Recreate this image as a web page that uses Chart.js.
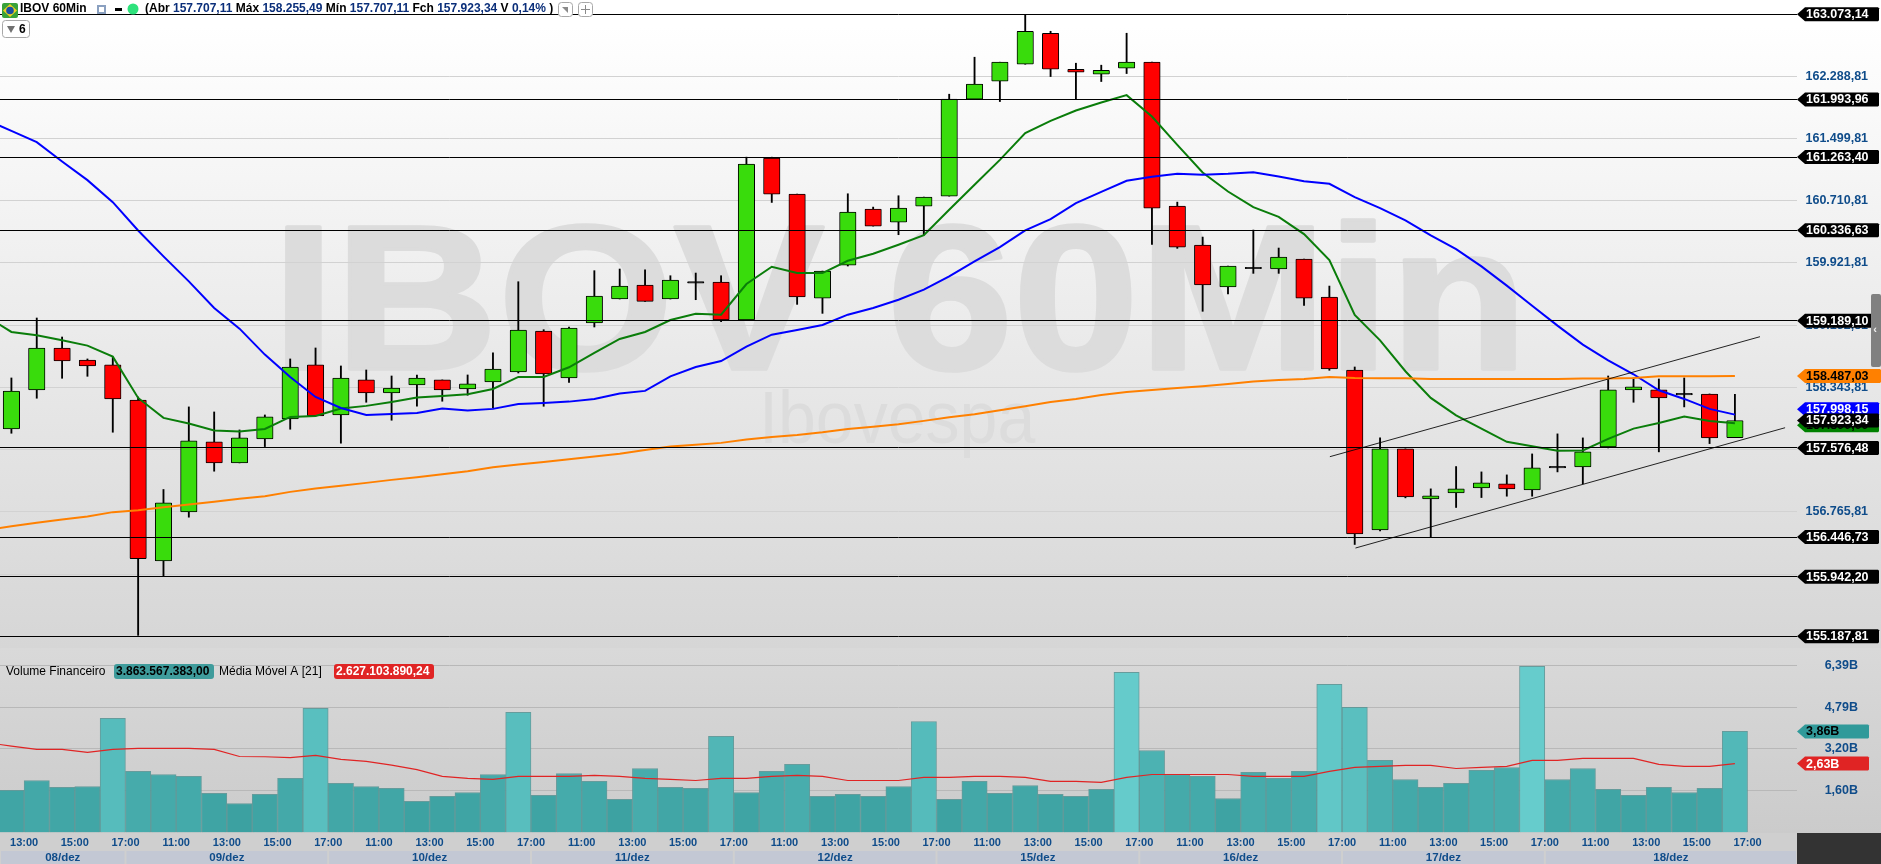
<!DOCTYPE html>
<html>
<head>
<meta charset="utf-8">
<title>IBOV 60Min</title>
<script src="https://cdn.jsdelivr.net/npm/chart.js@4/dist/chart.umd.min.js"></script>
<style>
html, body { margin: 0; padding: 0; background: #fff; overflow: hidden; }
canvas { display: block; }
</style>
</head>
<body>
<canvas id="ibovChart" width="1881" height="864"></canvas>
<script>
// ================= DATA =================
const candleOpen = [157817,158311,158843,158691,158628,158184,156145,156766,157652,157386,157690,157944,158628,157994,158438,158273,158374,158438,158324,158412,158539,159058,158463,159160,159464,159641,159464,159666,159679,159198,161250,160794,159476,159894,160604,160439,160642,160768,161997,162225,162440,162833,162377,162314,162390,162466,160642,160148,159616,159856,159844,159970,159489,158564,156538,157564,156931,157007,157070,157121,157045,157323,157336,157589,158311,158311,158248,158260,157707.11];
const candleHigh = [158463,159223,158982,158704,158729,158222,157049,158096,158032,157804,157994,158704,158843,158615,158564,158488,158501,158438,158501,158780,159683,159075,159109,159823,159844,159835,159759,159793,159759,161262,161262,160794,159818,160798,160629,160773,160756,162060,162529,162466,163073,162858,162453,162428,162833,162466,160692,160249,159882,160338,160110,159970,159628,158602,157703,157564,157057,157340,157272,157234,157500,157754,157703,158488,158463,158450,158463,158260,158255.49];
const candleLow = [157762,158206,158459,158484,157775,155200,155955,156698,157281,157386,157593,157813,157982,157636,158155,157927,158104,158168,158244,158083,158526,158104,158408,159109,159464,159434,159464,159455,159177,159198,160688,159396,159282,159882,160388,160279,160274,160768,161997,161967,162440,162284,161997,162221,162322,160156,160106,159308,159527,159789,159789,159384,158560,156352,156525,156943,156449,156821,156947,156964,156964,157272,157121,157576,158155,157526,158096,157631,157707.11];
const candleClose = [158298,158843,158678,158615,158197,156171,156880,157665,157386,157703,157969,158602,157982,158463,158273,158336,158463,158311,158387,158577,159071,158514,159096,159502,159628,159434,159704,159666,159198,161174,160794,159489,159818,160566,160388,160616,160756,161997,162187,162466,162858,162377,162339,162364,162466,160616,160122,159641,159882,159848,159996,159476,158577,156487,157564,156956,156969,157057,157133,157057,157323,157323,157526,158311,158349,158210,158248,157703,157923.34];

// moving averages: first value belongs to the bar just before the visible window
const emaFast = [159244,159046,159004,158940,158873,158733,158210,157957,157885,157796,157783,157817,157969,157982,158075,158109,158159,158214,158235,158256,158324,158476,158476,158598,158780,158957,159046,159198,159278,159265,159654,159873,159793,159793,159949,160038,160152,160274,160595,160912,161228,161566,161722,161853,161955,162048,161777,161418,161068,160827,160629,160506,160287,159958,159261,158940,158548,158210,157990,157821,157653,157598,157539,157543,157691,157821,157893,157973,157918,157890];
const emaSlow = [161735,161596,161452,161207,160971,160692,160333,160004,159687,159350,159088,158759,158476,158222,158083,157995,158007,158020,158075,158049,158071,158134,158146,158163,158197,158265,158299,158484,158602,158678,158860,159012,159071,159134,159265,159350,159455,159582,159751,159941,160122,160333,160477,160680,160823,160962,161013,161051,161038,161051,161072,161017,160958,160924,160756,160616,160460,160270,160097,159877,159633,159379,159126,158885,158687,158510,158307,158197,158071,157998.15];
const smaLong = [156534,156584,156627,156669,156707,156762,156787,156825,156859,156893,156931,156964,157019,157061,157095,157133,157171,157205,157243,157281,157332,157365,157399,157433,157467,157501,157551,157593,157615,157640,157682,157716,157741,157775,157817,157843,157876,157919,157965,158003,158054,158104,158159,158197,158248,158286,158311,158336,158358,158387,158417,158438,158450,158476,158463,158459,158459,158450,158450,158450,158450,158450,158450,158455,158455,158463,158484,158485,158486,158487.03];

// volume in billions
const volumeValues = [1.60,1.98,1.72,1.75,4.36,2.33,2.21,2.14,1.49,1.10,1.45,2.06,4.74,1.87,1.75,1.68,1.18,1.37,1.52,2.21,4.59,1.41,2.25,1.95,1.26,2.44,1.72,1.68,3.67,1.52,2.33,2.60,1.37,1.45,1.37,1.75,4.24,1.26,1.95,1.49,1.79,1.45,1.37,1.64,6.12,3.13,2.21,2.14,1.29,2.29,2.06,2.33,5.66,4.78,2.75,2.02,1.72,1.87,2.37,2.48,6.35,2.02,2.44,1.64,1.41,1.72,1.52,1.68,3.86];
const volumeAverage = [3.43,3.30,3.17,3.17,3.06,3.17,3.21,3.21,3.21,3.17,2.90,2.89,2.86,2.94,2.79,2.71,2.57,2.40,2.14,2.06,2.02,2.14,2.14,2.14,2.18,2.14,2.06,2.02,1.98,2.06,2.06,2.14,2.18,2.14,1.98,1.98,1.98,2.10,2.10,2.14,2.14,2.10,1.95,1.95,1.91,2.10,2.21,2.21,2.21,2.21,2.14,2.14,2.14,2.33,2.48,2.52,2.56,2.56,2.44,2.48,2.52,2.75,2.75,2.83,2.83,2.83,2.60,2.52,2.52,2.627];

const priceTicks = [162288.81,161499.81,160710.81,159921.81,159132.81,158343.81,157554.81,156765.81,155976.81,155187.81];
const priceLevels = [163073.14,161993.96,161263.40,160336.63,159189.10,157576.48,156446.73,155942.20,155187.81];
const volumeTicks = [1.60,3.20,4.79,6.39];
const timeTicks = ["13:00","15:00","17:00","11:00","13:00","15:00","17:00","11:00","13:00","15:00","17:00","11:00","13:00","15:00","17:00","11:00","13:00","15:00","17:00","11:00","13:00","15:00","17:00","11:00","13:00","15:00","17:00","11:00","13:00","15:00","17:00","11:00","13:00","15:00","17:00"];
const dayLabels = ["08/dez","09/dez","10/dez","11/dez","12/dez","15/dez","16/dez","17/dez","18/dez"];

// channel drawn on the chart: [bar, price] at both ends
const channelUpper = [[52.02,157465],[68.99,158986]];
const channelLower = [[53.03,156307],[69.98,157832]];

// ================= HELPERS =================
const FONT = '"Liberation Sans", Arial, sans-serif';
const AXIS_BLUE = "#0f4c8a";
const X_MIN = -0.45, X_MAX = 70.45;

const brl = v => v.toLocaleString("pt-BR", { minimumFractionDigits: 2, maximumFractionDigits: 2 });
const billions = v => v.toFixed(2).replace(".", ",") + "B";
const lastOf = a => a[a.length - 1];
const last = candleClose.length - 1;

function candleColor(i) {
    if (Math.abs(candleOpen[i] - candleClose[i]) < 12) return "#000000";
    return candleClose[i] > candleOpen[i] ? "#39dc0c" : "#ff0000";
}

// taller volume bars are drawn lighter
function volumeColor(v) {
    const t = Math.min(1, Math.max(0, (v - 1.1) / 5.2));
    return `rgb(${Math.round(60 + t * 42)},${Math.round(161 + t * 43)},${Math.round(161 + t * 43)})`;
}

function rr(ctx, x, y, w, h, r) {
    ctx.beginPath();
    ctx.roundRect(x, y, w, h, r);
}

function axisTag(ctx, y, text, bg, fg, right) {
    const x0 = 1797, h = 7;
    ctx.fillStyle = bg;
    ctx.beginPath();
    ctx.moveTo(x0, y);
    ctx.lineTo(x0 + 8, y - h);
    ctx.lineTo(right - 1, y - h);
    ctx.lineTo(right, y - h + 1);
    ctx.lineTo(right, y + h - 1);
    ctx.lineTo(right - 1, y + h);
    ctx.lineTo(x0 + 8, y + h);
    ctx.closePath();
    ctx.fill();
    ctx.fillStyle = fg;
    ctx.font = `bold 12.5px ${FONT}`;
    ctx.textAlign = "left";
    ctx.textBaseline = "middle";
    ctx.fillText(text, 1806, y + 0.5);
}

function runs(ctx, x, y, parts) {
    ctx.textAlign = "left";
    ctx.textBaseline = "middle";
    parts.forEach(([text, color]) => {
        ctx.fillStyle = color;
        ctx.fillText(text, x, y);
        x += ctx.measureText(text).width;
    });
    return x;
}

// ================= BACKGROUND, WATERMARK, TAGS, HEADER =================
const paneDecor = {
    id: "paneDecor",
    beforeDraw(chart) {
        const ctx = chart.ctx;
        const top = ctx.createLinearGradient(0, 0, 0, 648);
        top.addColorStop(0, "#ffffff");
        top.addColorStop(0.04, "#ffffff");
        top.addColorStop(1, "#d6d6d6");
        ctx.fillStyle = top;
        ctx.fillRect(0, 0, 1881, 648);
        const low = ctx.createLinearGradient(0, 648, 0, 833);
        low.addColorStop(0, "#d9d9d9");
        low.addColorStop(1, "#cbcbcb");
        ctx.fillStyle = low;
        ctx.fillRect(0, 648, 1881, 185);
        ctx.fillStyle = "#cfcfcf";
        ctx.fillRect(0, 833, 1881, 31);

        ctx.save();
        ctx.fillStyle = "#dcdcdc";
        ctx.strokeStyle = "#dcdcdc";
        ctx.lineWidth = 4;
        ctx.lineJoin = "round";
        ctx.textAlign = "left";
        ctx.textBaseline = "alphabetic";
        ctx.save();
        ctx.translate(272, 369);
        ctx.scale(1, 0.91);
        ctx.font = `bold 226px ${FONT}`;
        ctx.fillText("IBOV 60Min", 0, 0);
        ctx.strokeText("IBOV 60Min", 0, 0);
        ctx.restore();
        ctx.translate(759, 443);
        ctx.scale(0.92, 1);
        ctx.font = `74px ${FONT}`;
        ctx.fillText("Ibovespa", 0, 0);
        ctx.restore();
    },
    afterDraw(chart) {
        const ctx = chart.ctx;
        const { x, y, yVol } = chart.scales;
        ctx.save();

        // date strip
        ctx.font = `bold 11.5px ${FONT}`;
        ctx.textAlign = "center";
        ctx.textBaseline = "middle";
        dayLabels.forEach((label, k) => {
            const from = k === 0 ? X_MIN : 4.5 + 8 * (k - 1);
            const to = k === dayLabels.length - 1 ? X_MAX : 4.5 + 8 * k;
            const a = x.getPixelForValue(from), b = x.getPixelForValue(to);
            ctx.fillStyle = "#c3c8d4";
            ctx.fillRect(a + 1, 851, b - a - 2, 13);
            ctx.fillStyle = AXIS_BLUE;
            ctx.fillText(label, (a + b) / 2, 858);
        });
        ctx.fillStyle = "#333333";
        ctx.fillRect(1797, 833, 84, 31);

        // price tags, the last values are nudged apart as the platform does
        priceLevels.forEach(v => axisTag(ctx, y.getPixelForValue(v), brl(v), "#000000", "#ffffff", 1879));
        axisTag(ctx, y.getPixelForValue(lastOf(smaLong)), brl(lastOf(smaLong)), "#ff8000", "#000000", 1881);
        axisTag(ctx, y.getPixelForValue(lastOf(emaFast)) + 2, brl(lastOf(emaFast)), "#008000", "#000000", 1879);
        axisTag(ctx, y.getPixelForValue(lastOf(emaSlow)) - 5.5, brl(lastOf(emaSlow)), "#0000ff", "#ffffff", 1879);
        axisTag(ctx, y.getPixelForValue(candleClose[last]), brl(candleClose[last]), "#000000", "#ffffff", 1879);

        // volume tags
        axisTag(ctx, yVol.getPixelForValue(volumeValues[last]), billions(volumeValues[last]), "#309a9a", "#000000", 1869);
        axisTag(ctx, yVol.getPixelForValue(lastOf(volumeAverage)), billions(lastOf(volumeAverage)), "#e02424", "#ffffff", 1869);

        // scroll handle
        ctx.fillStyle = "#808080";
        rr(ctx, 1871, 294, 10, 73, 2);
        ctx.fill();
        ctx.fillStyle = "#f0f0f0";
        ctx.font = `bold 11px ${FONT}`;
        ctx.textAlign = "center";
        ctx.fillText("‹", 1875, 330);

        // volume pane legend
        ctx.font = `12px ${FONT}`;
        runs(ctx, 6, 672, [["Volume Financeiro", "#000000"]]);
        ctx.fillStyle = "#3f9c9c";
        rr(ctx, 114, 664, 100, 15, 3);
        ctx.fill();
        ctx.font = `bold 12px ${FONT}`;
        runs(ctx, 116, 672, [["3.863.567.383,00", "#000000"]]);
        ctx.font = `12px ${FONT}`;
        runs(ctx, 219, 672, [["Média Móvel A [21]", "#000000"]]);
        ctx.fillStyle = "#e02424";
        rr(ctx, 334, 664, 100, 15, 3);
        ctx.fill();
        ctx.font = `bold 12px ${FONT}`;
        runs(ctx, 336, 672, [["2.627.103.890,24", "#ffffff"]]);

        // flag
        ctx.fillStyle = "#3aa23a";
        rr(ctx, 2, 3, 16, 15, 2);
        ctx.fill();
        ctx.fillStyle = "#f0d020";
        ctx.beginPath();
        ctx.moveTo(3, 10.5); ctx.lineTo(10, 4); ctx.lineTo(17, 10.5); ctx.lineTo(10, 17);
        ctx.closePath();
        ctx.fill();
        ctx.fillStyle = "#1c4fa0";
        ctx.beginPath();
        ctx.arc(10, 10.5, 3.8, 0, Math.PI * 2);
        ctx.fill();

        // header
        const ink = "#000000", val = "#0b2f7a";
        ctx.font = `bold 12px ${FONT}`;
        runs(ctx, 20, 9, [["IBOV 60Min", ink]]);
        ctx.fillStyle = "#8aa0c0";
        ctx.fillRect(97, 5, 9, 9);
        ctx.fillStyle = "#fff";
        ctx.fillRect(99, 7, 5, 5);
        ctx.fillStyle = "#000";
        ctx.fillRect(115, 8, 7, 3);
        ctx.fillStyle = "#2ee27c";
        ctx.beginPath();
        ctx.arc(133, 9, 5.5, 0, Math.PI * 2);
        ctx.fill();
        runs(ctx, 145, 9, [
            ["(Abr ", ink], [brl(candleOpen[last]) + " ", val],
            ["Máx ", ink], [brl(candleHigh[last]) + " ", val],
            ["Mín ", ink], [brl(candleLow[last]) + " ", val],
            ["Fch ", ink], [brl(candleClose[last]) + " ", val],
            ["V ", ink], ["0,14% ", val], [")", ink]
        ]);

        // small buttons
        ctx.strokeStyle = "#a8a8a8";
        ctx.lineWidth = 1;
        ctx.fillStyle = "#ffffff";
        [[558.5, 2.5, 14, 14], [578.5, 2.5, 14, 14], [2.5, 20.5, 27, 17]].forEach(b => {
            rr(ctx, b[0], b[1], b[2], b[3], 3);
            ctx.fill();
            ctx.stroke();
        });
        ctx.fillStyle = "#8a8a8a";
        ctx.beginPath();
        ctx.moveTo(562, 7); ctx.lineTo(568, 7); ctx.lineTo(568, 13);
        ctx.closePath();
        ctx.fill();
        ctx.fillRect(581, 9, 9, 1);
        ctx.fillRect(585, 5, 1, 9);
        ctx.fillStyle = "#707070";
        ctx.beginPath();
        ctx.moveTo(7, 26); ctx.lineTo(15, 26); ctx.lineTo(11, 33);
        ctx.closePath();
        ctx.fill();
        ctx.font = `bold 12px ${FONT}`;
        runs(ctx, 19, 29.5, [["6", ink]]);

        ctx.restore();
    }
};

// ================= CHART =================
// the labels would otherwise push the plot area in from the canvas edges
function fixedWidth(w) {
    return s => { s.width = w; s.paddingTop = 0; s.paddingBottom = 0; };
}

function lineSet(values, color, width, order) {
    return {
        type: "line",
        data: values.map((v, i) => ({ x: i - 1, y: v })),
        borderColor: color,
        borderWidth: width,
        pointRadius: 0,
        tension: 0,
        order: order
    };
}

function channelSet(points) {
    return {
        type: "line",
        data: points.map(p => ({ x: p[0], y: p[1] })),
        borderColor: "rgba(0,0,0,0.85)",
        borderWidth: 1,
        pointRadius: 0,
        order: 4
    };
}

new Chart(document.getElementById("ibovChart"), {
    type: "bar",
    plugins: [paneDecor],
    data: {
        datasets: [
            {
                label: "Pavio",
                data: candleLow.map((v, i) => ({ x: i, y: [v, candleHigh[i]] })),
                backgroundColor: "#000000",
                barThickness: 1.2,
                grouped: false,
                order: 8
            },
            {
                label: "IBOV",
                data: candleOpen.map((v, i) => ({ x: i, y: [v, candleClose[i]] })),
                backgroundColor: candleOpen.map((v, i) => candleColor(i)),
                borderColor: "#000000",
                borderWidth: 1,
                borderSkipped: false,
                borderRadius: 1,
                barThickness: 16.5,
                minBarLength: 1.5,
                grouped: false,
                order: 7
            },
            Object.assign(lineSet(smaLong, "#ff8000", 2, 5), { label: "MM longa" }),
            Object.assign(lineSet(emaSlow, "#0000ff", 2, 5), { label: "MM lenta" }),
            Object.assign(lineSet(emaFast, "#0a7d0a", 2, 5), { label: "MM rápida" }),
            channelSet(channelUpper),
            channelSet(channelLower),
            {
                label: "Volume Financeiro",
                yAxisID: "yVol",
                data: volumeValues.map((v, i) => ({ x: i, y: v })),
                backgroundColor: volumeValues.map(volumeColor),
                borderColor: "rgba(90,150,150,0.9)",
                borderWidth: 1,
                borderSkipped: "bottom",
                barThickness: 25.3,
                grouped: false,
                order: 9
            },
            Object.assign(lineSet(volumeAverage, "#e02424", 1.2, 3), { label: "Média Móvel A [21]", yAxisID: "yVol" })
        ]
    },
    options: {
        responsive: false,
        animation: false,
        events: [],
        layout: { autoPadding: false, padding: 0 },
        plugins: { legend: { display: false }, tooltip: { enabled: false } },
        scales: {
            x: {
                type: "linear",
                position: "bottom",
                min: X_MIN,
                max: X_MAX,
                offset: false,
                bounds: "data",
                grid: { display: false, offset: false, drawTicks: false },
                border: { display: false },
                afterFit: s => { s.height = 31; s.paddingLeft = 0; s.paddingRight = 0; },
                afterBuildTicks: s => { s.ticks = timeTicks.map((t, i) => ({ value: i * 2 + 0.5 })); },
                ticks: {
                    autoSkip: false,
                    maxRotation: 0,
                    padding: 3,
                    color: AXIS_BLUE,
                    font: { family: FONT, size: 11, weight: "bold" },
                    callback: (v, i) => timeTicks[i]
                }
            },
            // both panes share the plot area, their ranges keep them apart
            y: {
                type: "linear",
                position: "right",
                weight: 1,
                min: 152694.4,
                max: 163254.4,
                bounds: "data",
                border: { display: false },
                grid: { color: "#d2d2d2", lineWidth: 1, drawTicks: false },
                afterFit: fixedWidth(84),
                afterBuildTicks: s => { s.ticks = priceTicks.map(v => ({ value: v })); },
                ticks: {
                    autoSkip: false,
                    padding: 8.5,
                    color: AXIS_BLUE,
                    font: { family: FONT, size: 12.5, weight: "bold" },
                    // a tick right behind a level tag shows no label
                    callback: v => priceLevels.some(l => Math.abs(l - v) < 40) ? "" : brl(v)
                }
            },
            // mirrored because a zero width axis clips normal labels
            yVol: {
                type: "linear",
                position: "right",
                weight: 0,
                min: -0.03,
                max: 31.87,
                bounds: "data",
                border: { display: false },
                grid: { color: "#b8b8b8", lineWidth: 1, drawTicks: false },
                afterFit: fixedWidth(0),
                afterBuildTicks: s => { s.ticks = volumeTicks.map(v => ({ value: v })); },
                ticks: {
                    autoSkip: false,
                    mirror: true,
                    padding: 61,
                    color: AXIS_BLUE,
                    font: { family: FONT, size: 12.5, weight: "bold" },
                    callback: v => billions(v)
                }
            },
            // support and resistance lines sit above the candles
            yLevels: {
                type: "linear",
                position: "right",
                weight: 0,
                min: 152694.4,
                max: 163254.4,
                bounds: "data",
                border: { display: false },
                grid: { color: "#000000", lineWidth: 1, drawTicks: false, z: 1 },
                afterFit: fixedWidth(0),
                afterBuildTicks: s => { s.ticks = priceLevels.map(v => ({ value: v })); },
                ticks: { display: false, autoSkip: false }
            }
        }
    }
});
</script>
</body>
</html>
